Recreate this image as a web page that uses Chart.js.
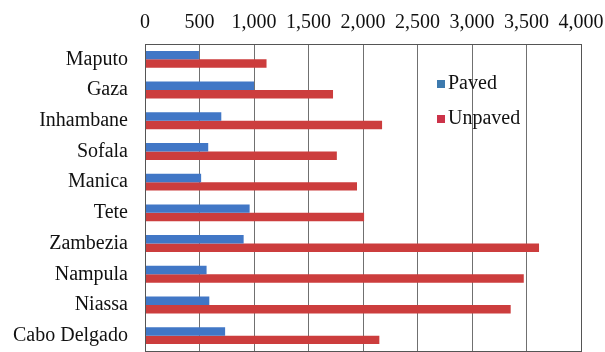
<!DOCTYPE html>
<html>
<head>
<meta charset="utf-8">
<script src="https://cdn.jsdelivr.net/npm/chart.js@4.4.1/dist/chart.umd.min.js"></script>
<style>
    html, body { margin: 0; padding: 0; background: #fff; overflow: hidden; }
    #wrap { position: relative; width: 605px; height: 352px; }
</style>
</head>
<body>
<div id="wrap"><canvas id="roadsChart"></canvas></div>
<script>
const provinces = ['Maputo', 'Gaza', 'Inhambane', 'Sofala', 'Manica', 'Tete', 'Zambezia', 'Nampula', 'Niassa', 'Cabo Delgado'];
const paved = [495, 1000, 700, 580, 515, 960, 905, 565, 590, 735];
const unpaved = [1115, 1725, 2175, 1760, 1945, 2010, 3615, 3475, 3355, 2150];
const xTicks = [0, 500, 1000, 1500, 2000, 2500, 3000, 3500, 4000];

const FONT = 'Liberation Serif, Times New Roman, serif';

// marco del area de grafico + leyenda dentro del grafico
const framePlugin = {
    id: 'frame',
    afterDraw(chart) {
        const ctx = chart.ctx;
        const a = chart.chartArea;
        ctx.save();
        ctx.strokeStyle = '#555';
        ctx.lineWidth = 1;
        ctx.strokeRect(a.left + 0.5, a.top + 0.5, a.right - a.left, a.bottom - a.top);

        // leyenda
        ctx.font = '20px ' + FONT;
        ctx.textBaseline = 'middle';
        chart.data.datasets.forEach((ds, i) => {
            const y = 84 + i * 35;
            ctx.fillStyle = ds.legendColor;
            ctx.fillRect(437, y - 4, 8, 8);
            ctx.fillStyle = '#111';
            ctx.fillText(ds.label, 448, y);
        });
        ctx.restore();
    }
};

new Chart(document.getElementById('roadsChart'), {
    type: 'bar',
    data: {
        labels: provinces,
        datasets: [{
            label: 'Paved',
            data: paved,
            backgroundColor: '#4177C6',
            legendColor: '#3D7AAE',
            categoryPercentage: 0.55,
            barPercentage: 1
        }, {
            label: 'Unpaved',
            data: unpaved,
            backgroundColor: '#CC3D3D',
            legendColor: '#CC3349',
            categoryPercentage: 0.55,
            barPercentage: 1
        }]
    },
    options: {
        indexAxis: 'y',
        responsive: true,
        maintainAspectRatio: false,
        animation: false,
        layout: { padding: { left: 0, right: 24, top: 0, bottom: 1 } },
        plugins: {
            legend: { display: false },
            tooltip: { enabled: false }
        },
        scales: {
            x: {
                position: 'top',
                min: 0,
                max: 4000,
                afterBuildTicks: (scale) => {
                    scale.ticks = xTicks.map(v => ({ value: v }));
                },
                afterFit: (scale) => {
                    scale.height = 44;
                    scale.paddingLeft = 0;
                    scale.paddingRight = 0;
                },
                grid: { color: '#707070', drawTicks: false },
                border: { color: '#555' },
                ticks: {
                    padding: 9,
                    maxRotation: 0,
                    color: '#111',
                    font: { family: FONT, size: 20 },
                    callback: (v) => v.toLocaleString('en-US')
                }
            },
            y: {
                afterFit: (scale) => {
                    scale.width = 145;
                    scale.paddingTop = 0;
                    scale.paddingBottom = 0;
                },
                grid: { display: false, drawTicks: false },
                border: { color: '#555' },
                ticks: {
                    padding: 17,
                    color: '#111',
                    font: { family: FONT, size: 20 }
                }
            }
        }
    },
    plugins: [framePlugin]
});
</script>
</body>
</html>
